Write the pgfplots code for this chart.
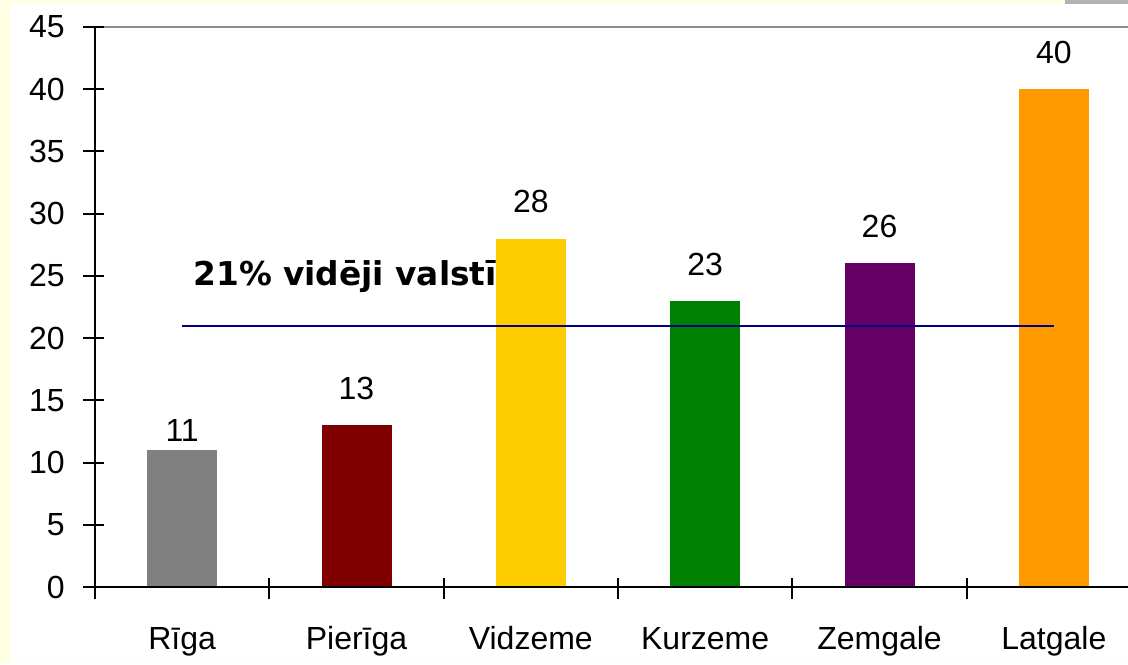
\documentclass[border=0pt]{standalone}
\usepackage{fontspec}
\setmainfont{Liberation Sans}
\newfontfamily\dejavu{DejaVu Sans}
\usepackage{pgfplots}
\pgfplotsset{compat=1.18}
\definecolor{bgyellow}{HTML}{FFFFE3}
\definecolor{cgray}{HTML}{808080}
\definecolor{cmaroon}{HTML}{800000}
\definecolor{cgold}{HTML}{FFCC00}
\definecolor{cgreen}{HTML}{008000}
\definecolor{cpurple}{HTML}{660066}
\definecolor{corange}{HTML}{FF9900}
\definecolor{cnavy}{HTML}{000080}
\definecolor{topgray}{HTML}{8C8C8C}
\begin{document}
\fontsize{16}{19}\selectfont
\begin{tikzpicture}
\useasboundingbox (0,0) rectangle (564pt,332pt);
\clip (0,0) rectangle (564pt,332pt);
\fill[bgyellow] (0,0) rectangle (564pt,332pt);
\fill[white] (5pt,0.5pt) rectangle (564pt,330pt);
\fill[black!30] (532.5pt,330pt) rectangle (564pt,332pt);
\begin{axis}[
  scale only axis,
  width=523pt, height=280pt,
  at={(47.5pt,38.5pt)}, anchor=south west,
  xmin=0, xmax=6, ymin=0, ymax=45,
  axis line style={draw=none},
  xtick pos=left, ytick pos=left,
  ytick={0,5,...,45},
  xtick={0,1,2,3,4,5,6},
  x tick label as interval,
  xticklabels={Rīga,Pierīga,Vidzeme,Kurzeme,Zemgale,Latgale},
  tick style={draw=none},
  major tick length=10pt,
  tick align=center,
  /pgf/number format/assume math mode=true,
  tick label style={font=\fontsize{16}{19}\selectfont},
  yticklabel style={anchor=east, inner sep=0pt, xshift=-10pt},
  xticklabel style={anchor=base, inner sep=0pt, yshift=-21pt},
  every node near coord/.append style={font=\fontsize{16}{19}\selectfont, anchor=south, inner sep=0pt, yshift=12.5pt},
  nodes near coords,
  ybar, bar width=35pt, bar shift=0pt,
  clip=false,
]
\addplot[fill=cgray, draw=none, every node near coord/.append style={yshift=-8.5pt}] coordinates {(0.5,11)};
\addplot[fill=cmaroon, draw=none] coordinates {(1.5,13)};
\addplot[fill=cgold, draw=none] coordinates {(2.5,28)};
\addplot[fill=cgreen, draw=none] coordinates {(3.5,23)};
\addplot[fill=cpurple, draw=none] coordinates {(4.5,26)};
\addplot[fill=corange, draw=none] coordinates {(5.5,40)};
\addplot[sharp plot, cnavy, line width=1.1pt, nodes near coords={}, forget plot] coordinates {(0.5,21) (5.5,21)};
\draw[black, line width=1pt] (axis cs:0,0) -- (axis cs:6.2,0);
\draw[black, line width=1pt] (axis cs:0,0) -- (axis cs:0,45);
\draw[topgray, line width=1pt] (axis cs:0,45) -- (axis cs:6.2,45);
\pgfplotsinvokeforeach{0,1,2,3,4,5,6}{\draw[black, line width=1pt] ([yshift=-6pt]axis cs:#1,0) -- ([yshift=4.5pt]axis cs:#1,0);}
\pgfplotsinvokeforeach{0,5,10,15,20,25,30,35,40,45}{\draw[black, line width=1pt] ([xshift=-6pt]axis cs:0,#1) -- ([xshift=4.5pt]axis cs:0,#1);}
\node[anchor=base west, inner sep=0pt, font=\dejavu\bfseries\fontsize{16.4}{19}\selectfont] at (axis cs:0.562,24.2) {21\% vidēji valstī};
\end{axis}
\end{tikzpicture}
\end{document}
